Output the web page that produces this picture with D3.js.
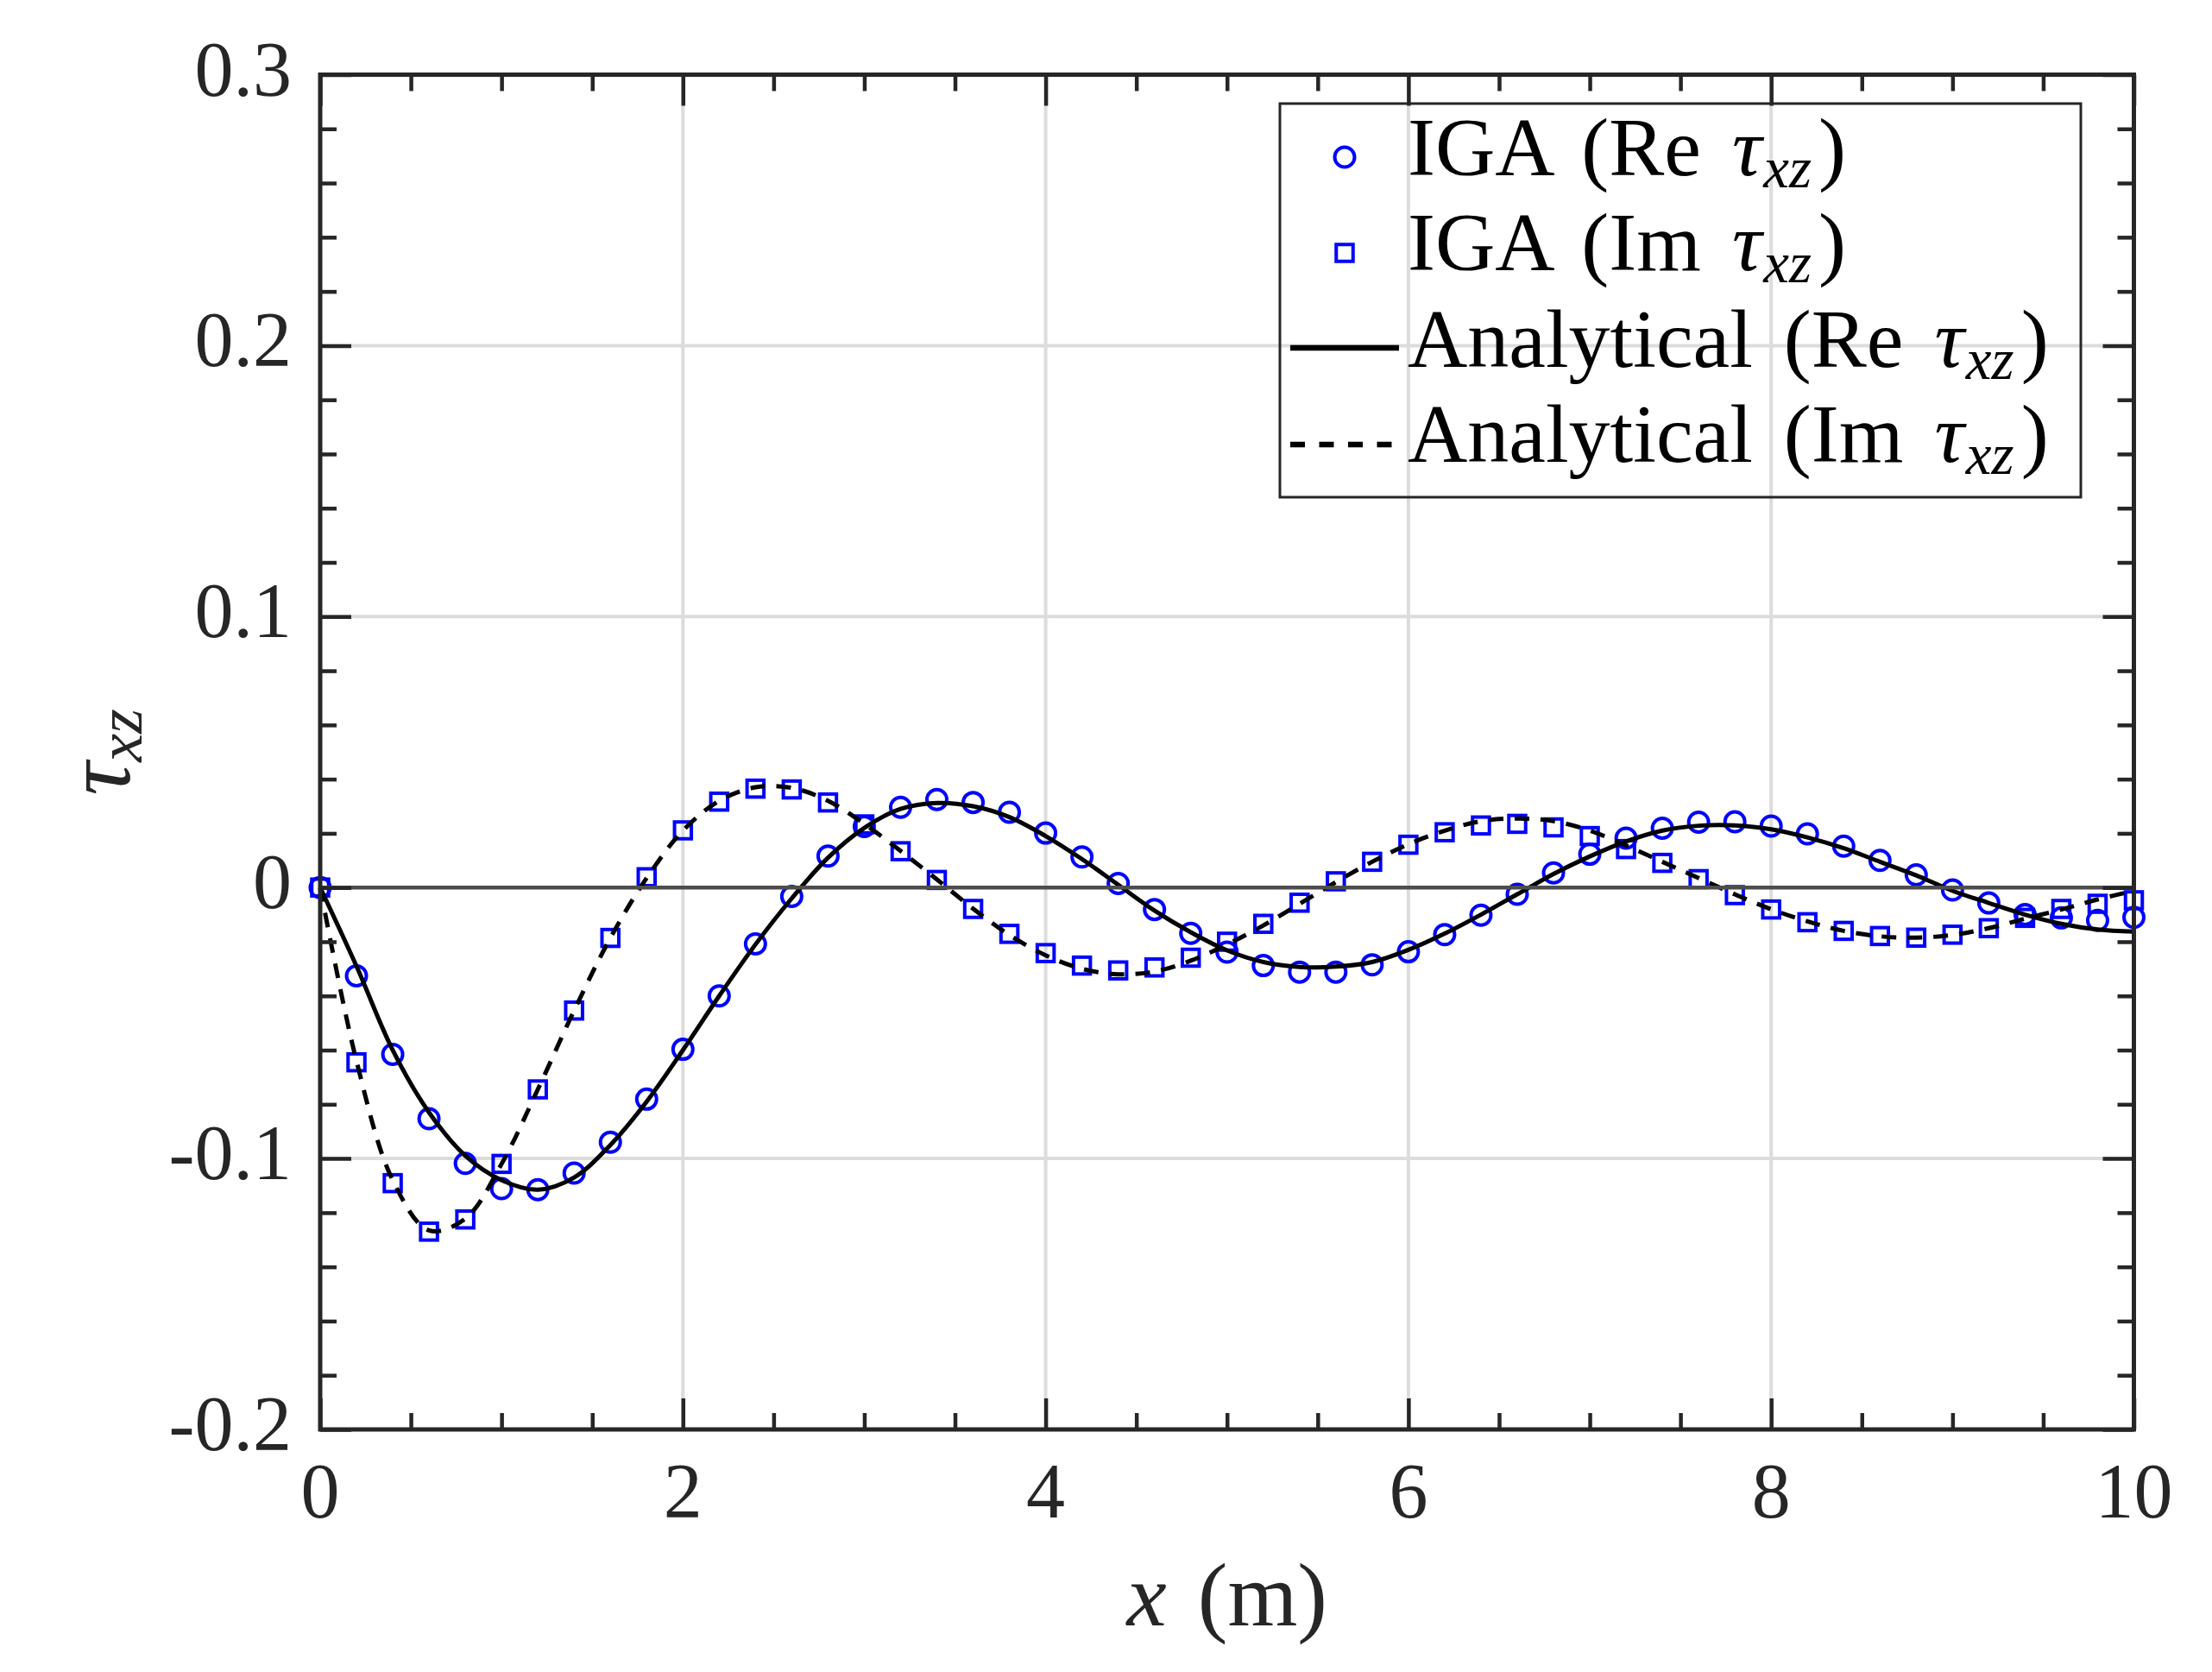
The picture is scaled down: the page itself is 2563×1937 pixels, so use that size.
<!DOCTYPE html>
<html>
<head>
<meta charset="utf-8">
<script src="https://cdn.jsdelivr.net/npm/d3@7"></script>
<style>
  body { margin: 0; background: #fff; }
  svg text { font-family: "Liberation Serif", "Times New Roman", serif; fill: #262626; }
</style>
</head>
<body>
<script>
// sample positions along x (m)
var xValues = [0, 0.2, 0.4, 0.6, 0.8, 1.0, 1.2, 1.4, 1.6, 1.8,
  2.0, 2.2, 2.4, 2.6, 2.8, 3.0, 3.2, 3.4, 3.6, 3.8,
  4.0, 4.2, 4.4, 4.6, 4.8, 5.0, 5.2, 5.4, 5.6, 5.8,
  6.0, 6.2, 6.4, 6.6, 6.8, 7.0, 7.2, 7.4, 7.6, 7.8,
  8.0, 8.2, 8.4, 8.6, 8.8, 9.0, 9.2, 9.4, 9.6, 9.8, 10];

// IGA, real part (circles)
var reIGA = [0, -0.0326, -0.0616, -0.0853, -0.1018, -0.1111, -0.1115, -0.1054, -0.0940, -0.0781,
  -0.0597, -0.0400, -0.0208, -0.0033, 0.0116, 0.0225, 0.0296, 0.0325, 0.0314, 0.0278,
  0.0201, 0.0113, 0.0015, -0.0081, -0.0169, -0.0238, -0.0288, -0.0312, -0.0312, -0.0285,
  -0.0237, -0.0174, -0.0102, -0.0025, 0.0054, 0.0123, 0.0182, 0.0219, 0.0241, 0.0243,
  0.0227, 0.0198, 0.0153, 0.0100, 0.0047, -0.0009, -0.0057, -0.0100, -0.0112, -0.0121, -0.0110];

// IGA, imaginary part (squares)
var imIGA = [0, -0.0645, -0.1091, -0.1270, -0.1225, -0.1020, -0.0745, -0.0454, -0.0186, 0.0038,
  0.0211, 0.0317, 0.0365, 0.0362, 0.0314, 0.0233, 0.0134, 0.0028, -0.0079, -0.0171,
  -0.0242, -0.0288, -0.0306, -0.0295, -0.0259, -0.0200, -0.0134, -0.0056, 0.0023, 0.0095,
  0.0158, 0.0204, 0.0229, 0.0235, 0.0222, 0.0190, 0.0142, 0.0091, 0.0031, -0.0028,
  -0.0081, -0.0128, -0.0160, -0.0179, -0.0185, -0.0174, -0.0150, -0.0112, -0.0079, -0.0060, -0.0047];

// analytical, real part (solid)
var reExact = [0, -0.029, -0.060, -0.083, -0.099, -0.108, -0.1115, -0.107, -0.095, -0.079,
  -0.060, -0.040, -0.021, -0.004, 0.011, 0.022, 0.029, 0.0312, 0.030, 0.026,
  0.019, 0.0105, 0.001, -0.0085, -0.0165, -0.0232, -0.0275, -0.0293, -0.0292, -0.0275,
  -0.023, -0.017, -0.010, -0.0025, 0.005, 0.0115, 0.017, 0.021, 0.0228, 0.0229,
  0.0215, 0.0185, 0.0145, 0.0095, 0.0045, -0.0012, -0.0057, -0.0100, -0.0134, -0.0155, -0.0163];

// analytical, imaginary part (dashed)
var imExact = [0, -0.064, -0.108, -0.1265, -0.1222, -0.102, -0.0745, -0.0454, -0.0186, 0.0035,
  0.021, 0.032, 0.037, 0.0368, 0.032, 0.0235, 0.0135, 0.003, -0.0078, -0.0175,
  -0.025, -0.030, -0.032, -0.031, -0.027, -0.021, -0.014, -0.006, 0.002, 0.0095,
  0.016, 0.021, 0.0245, 0.0255, 0.0245, 0.021, 0.0155, 0.0095, 0.0035, -0.0025,
  -0.008, -0.0125, -0.016, -0.018, -0.0185, -0.0175, -0.015, -0.0115, -0.0081, -0.0044, -0.0012];

var xTicks = [0, 2, 4, 6, 8, 10];
var xTickLabels = ["0", "2", "4", "6", "8", "10"];
var yTicks = [-0.2, -0.1, 0, 0.1, 0.2, 0.3];
var yTickLabels = ["-0.2", "-0.1", "0", "0.1", "0.2", "0.3"];
var legendNames = ["IGA (Re", "IGA (Im", "Analytical (Re", "Analytical (Im"];

var w = 2563;
var h = 1937;
var axisColor = "#262626";
var blue = "#0000ff";

var svg = d3.select("body").append("svg").attr("width", w).attr("height", h);
svg.append("rect").attr("width", w).attr("height", h).attr("fill", "#fff");

var x = d3.scaleLinear().domain([0, 10]).range([371, 2472.5]);
var y = d3.scaleLinear().domain([-0.2, 0.3]).range([1656, 86.5]);
var pLeft = x.range()[0], pRight = x.range()[1], pTop = y.range()[1], pBottom = y.range()[0];

// grid
var grid = svg.append("g");
grid.selectAll("line.gx").data(xTicks.filter(function(d) { return d > 0 && d < 10; })).enter()
  .append("line").attr("class", "gx")
  .attr("x1", function(d) { return x(d); }).attr("x2", function(d) { return x(d); })
  .attr("y1", pTop).attr("y2", pBottom)
  .attr("stroke", "#dcdcdc").attr("stroke-width", 4);
grid.selectAll("line.gy").data(yTicks.filter(function(d) { return d > -0.2 && d < 0.3 && d !== 0; })).enter()
  .append("line").attr("class", "gy")
  .attr("y1", function(d) { return y(d); }).attr("y2", function(d) { return y(d); })
  .attr("x1", pLeft).attr("x2", pRight)
  .attr("stroke", "#dcdcdc").attr("stroke-width", 4);

var pts = xValues.map(function(d, i) {
  return {x: d, re: reIGA[i], im: imIGA[i], reA: reExact[i], imA: imExact[i]};
});

// IGA markers
svg.append("g").selectAll("circle").data(pts).enter().append("circle")
  .attr("cx", function(d) { return x(d.x); })
  .attr("cy", function(d) { return y(d.re); })
  .attr("r", 11.5)
  .attr("fill", "none").attr("stroke", blue).attr("stroke-width", 4);

var sq = 19.5;
svg.append("g").selectAll("rect").data(pts).enter().append("rect")
  .attr("x", function(d) { return x(d.x) - sq / 2; })
  .attr("y", function(d) { return y(d.im) - sq / 2; })
  .attr("width", sq).attr("height", sq)
  .attr("fill", "none").attr("stroke", blue).attr("stroke-width", 4);

// analytical curves
var lineRe = d3.line().x(function(d) { return x(d.x); }).y(function(d) { return y(d.reA); })
  .curve(d3.curveCatmullRom.alpha(0.5));
var lineIm = d3.line().x(function(d) { return x(d.x); }).y(function(d) { return y(d.imA); })
  .curve(d3.curveCatmullRom.alpha(0.5));

svg.append("path").datum(pts).attr("d", lineRe)
  .attr("fill", "none").attr("stroke", "#000").attr("stroke-width", 5);
svg.append("path").datum(pts).attr("d", lineIm)
  .attr("fill", "none").attr("stroke", "#000").attr("stroke-width", 5)
  .attr("stroke-dasharray", "17,13");

// zero line
svg.append("line").attr("x1", pLeft).attr("x2", pRight)
  .attr("y1", y(0)).attr("y2", y(0))
  .attr("stroke", "#4d4d4d").attr("stroke-width", 4.5);

// axes: inward ticks on all four sides
var xMinor = d3.range(0, 10.001, 0.5).filter(function(d) { return d % 2 !== 0; });
var yMinor = d3.range(-0.2, 0.3001, 0.02).filter(function(d) {
  return Math.abs(Math.round(d * 10) - d * 10) > 1e-6;
});

function styleAxis(g) {
  g.select(".domain").remove();
  g.selectAll(".tick line").attr("stroke", axisColor).attr("stroke-width", 4.5);
  g.selectAll(".tick text").remove();
}

var axes = [
  [d3.axisBottom, "translate(0," + pBottom + ")", xTicks, xMinor, x],
  [d3.axisTop, "translate(0," + pTop + ")", xTicks, xMinor, x],
  [d3.axisLeft, "translate(" + pLeft + ",0)", yTicks, yMinor, y],
  [d3.axisRight, "translate(" + pRight + ",0)", yTicks, yMinor, y]
];
axes.forEach(function(a) {
  svg.append("g").attr("transform", a[1])
    .call(a[0](a[4]).tickValues(a[2]).tickSize(-36)).call(styleAxis);
  svg.append("g").attr("transform", a[1])
    .call(a[0](a[4]).tickValues(a[3]).tickSize(-19)).call(styleAxis);
});

svg.append("rect").attr("x", pLeft).attr("y", pTop)
  .attr("width", pRight - pLeft).attr("height", pBottom - pTop)
  .attr("fill", "none").attr("stroke", axisColor).attr("stroke-width", 5);

// tick labels
svg.append("g").selectAll("text").data(xTicks).enter().append("text")
  .attr("x", function(d) { return x(d); })
  .attr("y", 1758)
  .attr("text-anchor", "middle")
  .attr("font-size", 90)
  .text(function(d, i) { return xTickLabels[i]; });

svg.append("g").selectAll("text").data(yTicks).enter().append("text")
  .attr("x", 338)
  .attr("y", function(d) { return y(d) + 24; })
  .attr("text-anchor", "end")
  .attr("font-size", 90)
  .text(function(d, i) { return yTickLabels[i]; });

// axis labels
var xl = svg.append("text").attr("x", (pLeft + pRight) / 2).attr("y", 1883)
  .attr("text-anchor", "middle").attr("font-size", 104);
xl.append("tspan").attr("font-style", "italic").text("x");
xl.append("tspan").attr("dx", 36).text("(m)");

var yl = svg.append("text").attr("transform", "translate(150," + ((pTop + pBottom) / 2) + ") rotate(-90)")
  .attr("text-anchor", "middle").attr("font-size", 108);
yl.append("tspan").attr("font-style", "italic").text("τ");
yl.append("tspan").attr("font-style", "italic").attr("font-size", 74).attr("dy", 14).text("xz");

// legend
var lg = svg.append("g");
lg.append("rect").attr("x", 1483).attr("y", 120).attr("width", 928).attr("height", 456)
  .attr("fill", "none").attr("stroke", axisColor).attr("stroke-width", 3);

var rowY = [203, 313, 425, 535];
var sampleX = 1558;

lg.append("circle").attr("cx", sampleX).attr("cy", rowY[0] - 21).attr("r", 11.5)
  .attr("fill", "none").attr("stroke", blue).attr("stroke-width", 4);
lg.append("rect").attr("x", sampleX - sq / 2).attr("y", rowY[1] - 20 - sq / 2)
  .attr("width", sq).attr("height", sq)
  .attr("fill", "none").attr("stroke", blue).attr("stroke-width", 4);
lg.append("line").attr("x1", 1495).attr("x2", 1621).attr("y1", rowY[2] - 22).attr("y2", rowY[2] - 22)
  .attr("stroke", "#000").attr("stroke-width", 6.5);
lg.append("line").attr("x1", 1495).attr("x2", 1615).attr("y1", rowY[3] - 20).attr("y2", rowY[3] - 20)
  .attr("stroke", "#000").attr("stroke-width", 6.5).attr("stroke-dasharray", "17,16.5");

legendNames.forEach(function(name, i) {
  var t = lg.append("text").attr("x", 1631).attr("y", rowY[i]).attr("font-size", 96)
    .style("fill", "#000").style("word-spacing", "12px");
  t.append("tspan").text(name + " ");
  t.append("tspan").attr("font-style", "italic").text("τ");
  t.append("tspan").attr("font-style", "italic").attr("font-size", 67).attr("dy", 14).attr("dx", 2).text("xz");
  t.append("tspan").attr("dy", -14).attr("dx", 8).text(")");
});
</script>
</body>
</html>
